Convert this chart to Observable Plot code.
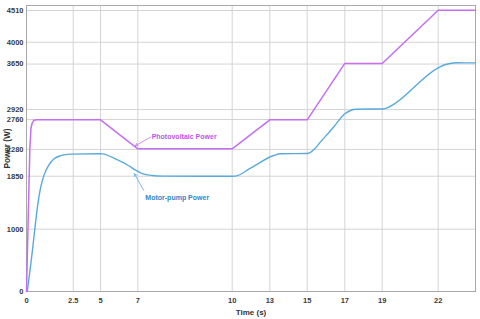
<!DOCTYPE html>
<html>
<head>
<meta charset="utf-8">
<script src="https://cdn.jsdelivr.net/npm/d3@7"></script>
<script src="https://cdn.jsdelivr.net/npm/@observablehq/plot@0.6"></script>
<style>
  html, body { margin: 0; padding: 0; background: #fff; }
  #chart svg { display: block; }
</style>
</head>
<body>
<div id="chart"></div>
<script>
// Time breakpoints of the (non-uniform) time axis and the tick labels
const xBreaks = [0, 2.5, 5, 7, 10, 13, 15, 17, 19, 22, 24];
const xTicks = [0, 2.5, 5, 7, 10, 13, 15, 17, 19, 22];
const yTicks = [0, 1000, 1850, 2280, 2760, 2920, 3650, 4000, 4510];

// Photovoltaic power (W)
const pvTime  = [0, 0.1, 0.18, 0.24, 0.3, 0.4, 0.55, 5, 7, 10, 13, 15, 17, 19, 22, 24];
const pvPower = [0, 1300, 2300, 2620, 2700, 2750, 2755, 2755, 2290, 2290, 2755, 2755, 3660, 3660, 4515, 4515];

// Motor-pump power (W)
const mpTime  = [0.04, 0.31, 0.43, 0.57, 0.75, 0.93, 1.19, 1.46, 1.82, 2.36, 5.0, 5.1, 5.8, 6.52, 6.88, 7.14, 7.46, 7.8, 10.0, 10.26, 11.46, 13.21, 13.57, 15.0, 15.35, 15.7, 16.4, 17.0, 17.3, 17.6, 19.0, 19.3, 19.6, 22.0, 22.4, 23.0, 24];
const mpPower = [0, 640, 960, 1320, 1660, 1860, 2025, 2125, 2180, 2205, 2210, 2208, 2128, 2018, 1948, 1893, 1862, 1852, 1850, 1852, 1979, 2183, 2210, 2215, 2275, 2397, 2637, 2852, 2905, 2926, 2930, 2950, 3000, 3590, 3643, 3670, 3670];

// Annotations (label, text position, arrow start, arrow tip) in data units
const annLabels = ["Photovoltaic Power", "Motor-pump Power"];
const annTextT  = [7.44, 7.24];
const annTextP  = [2490, 1500];
const annFromT  = [7.40, 7.19];
const annFromP  = [2476, 1621];
const annTipT   = [6.87, 6.82];
const annTipP   = [2340, 1889];

const PV_COLOR = "#c46ef2";
const MP_COLOR = "#5aa9dd";

const W = 480, H = 319, mL = 26, mR = 5, mT = 5, mB = 28;
const xBreakPx = [26, 72.7, 100, 137.3, 231.7, 269.3, 306.7, 344.3, 381.7, 437.7, 475];

const pv = pvTime.map((t, i) => ({t, p: pvPower[i]}));
const mp = mpTime.map((t, i) => ({t, p: mpPower[i]}));
const ann = annLabels.map((label, i) => ({
  label, tx: annTextT[i], ty: annTextP[i],
  x1: annFromT[i], y1: annFromP[i], x2: annTipT[i], y2: annTipP[i],
  color: i === 0 ? PV_COLOR : MP_COLOR,
  tcolor: i === 0 ? "#bb55ee" : "#2f86c8"
}));

const FONT = "'Liberation Sans Narrow', 'Arial Narrow', 'Liberation Sans', Arial, sans-serif";

const chart = Plot.plot({
  width: W, height: H,
  marginLeft: mL, marginRight: mR, marginTop: mT, marginBottom: mB,
  style: {fontFamily: FONT, background: "#fff", color: "#333"},
  x: {type: "linear", domain: xBreaks, range: xBreakPx},
  y: {domain: [0, 4590]},
  marks: [
    Plot.gridX(xTicks, {stroke: "#d4d4d4", strokeOpacity: 1, strokeWidth: 1}),
    Plot.gridY(yTicks, {stroke: "#d4d4d4", strokeOpacity: 1, strokeWidth: 1}),
    Plot.frame({stroke: "#a8a8a8", strokeWidth: 1}),
    Plot.axisX(xTicks, {tickSize: 0, tickPadding: 6, fontSize: 7.5, fontWeight: "bold", fill: "#3a3a3a", tickFormat: d => String(d), label: null}),
    Plot.axisY(yTicks, {tickSize: 0, tickPadding: 3, fontSize: 7.5, fontWeight: "bold", fill: "#3a3a3a", tickFormat: d => String(d), label: null}),
    Plot.text(["Power (W)"], {frameAnchor: "left", dx: -19, dy: 0, rotate: -90, textAnchor: "middle", lineAnchor: "middle", fontSize: 8.2, fontWeight: "bold", fill: "#333", fontFamily: "'Liberation Sans', Arial, sans-serif"}),
    Plot.text(["Time (s)"], {frameAnchor: "bottom", dy: 21, lineAnchor: "middle", fontSize: 8, fontWeight: "bold", fill: "#333"}),
    Plot.line(mp, {x: "t", y: "p", stroke: MP_COLOR, strokeWidth: 1.4, curve: "monotone-x"}),
    Plot.line(pv, {x: "t", y: "p", stroke: PV_COLOR, strokeWidth: 1.5, curve: "linear"}),
    Plot.arrow(ann, {x1: "x1", y1: "y1", x2: "x2", y2: "y2", stroke: "color", strokeWidth: 0.8, headLength: 5}),
    Plot.text(ann, {x: "tx", y: "ty", text: "label", fill: "tcolor", textAnchor: "start", fontSize: 7, fontWeight: "bold"})
  ]
});
document.getElementById("chart").appendChild(chart);
</script>
</body>
</html>
